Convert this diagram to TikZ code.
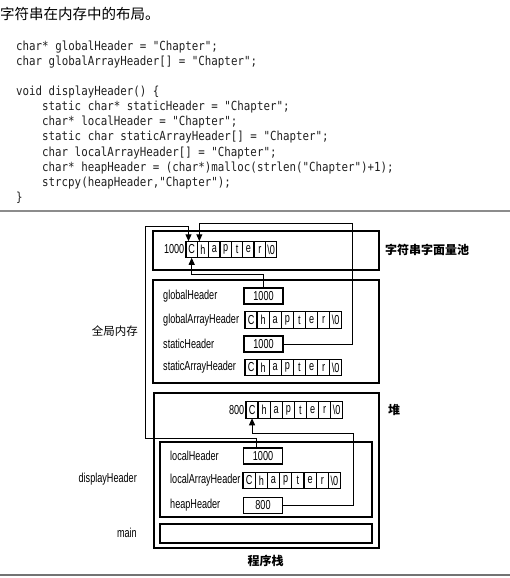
\documentclass[tikz,border=0pt]{standalone}
\usepackage{fontspec}
\setmainfont{Liberation Sans}
\newfontfamily\cjk{Noto Sans CJK SC}
\newfontfamily\codefont[FakeStretch=0.865]{DejaVu Sans Mono}
\newfontfamily\lblfont[FakeStretch=0.7]{Liberation Sans}
\usetikzlibrary{arrows.meta}
\newcommand\lblsize{\lblfont\fontsize{13pt}{15pt}\selectfont}
\newcommand\mkcells[4]{%
  \foreach \ch [count=\i] in {C,h,a,p,t,e,r,\textbackslash0} {
    \node[cell, minimum width=#4pt] (#1\i) at ({#2+(\i-1)*#4}, #3) {\ch};
  }%
}
\tikzset{
  cell/.style={draw, line width=1.3pt, minimum height=16.5pt, inner sep=0pt, outer sep=0pt, anchor=west, font=\lblsize},
  valbox/.style={draw, line width=1.3pt, minimum width=39pt, minimum height=16pt, inner sep=0pt, outer sep=0pt, font=\lblsize},
  region/.style={draw, line width=1.3pt},
  conn/.style={draw, line width=1pt},
  tip/.style={-{Triangle[length=7pt,width=6pt]}},
  codeline/.style={anchor=west, inner sep=0pt, font=\codefont\fontsize{12.5pt}{14pt}\selectfont, text=black!88},
  lbl/.style={anchor=west, inner sep=0pt, font=\lblsize},
  cjklbl/.style={inner sep=0pt, font=\cjk\bfseries\fontsize{12pt}{14pt}\selectfont},
}
\begin{document}
\begin{tikzpicture}[x=1pt,y=-1pt]
\useasboundingbox (0,0) rectangle (510,578);
% title and code
\node[anchor=west, inner sep=0pt, font=\cjk\fontsize{14.5pt}{16pt}\selectfont] (title) at (0,14) {字符串在内存中的布局。};
\node[codeline] (code1) at (16,47) {char* globalHeader = "Chapter";};
\node[codeline] (code2) at (16,62) {char globalArrayHeader[] = "Chapter";};
\node[codeline] (code3) at (16,92) {void displayHeader() \{};
\node[codeline] (code4) at (42,107) {static char* staticHeader = "Chapter";};
\node[codeline] (code5) at (42,122) {char* localHeader = "Chapter";};
\node[codeline] (code6) at (42,137) {static char staticArrayHeader[] = "Chapter";};
\node[codeline] (code7) at (42,153) {char localArrayHeader[] = "Chapter";};
\node[codeline] (code8) at (42,168) {char* heapHeader = (char*)malloc(strlen("Chapter")+1);};
\node[codeline] (code9) at (42,183) {strcpy(heapHeader,"Chapter");};
\node[codeline] (code10) at (16,198) {\}};
% separators
\draw[line width=1.2pt, black!45] (0,211) -- (510,211);
\draw[line width=1.5pt, black!55] (0,575) -- (510,575);
% regions
\draw[region] (153,231) rectangle (379,270);
\draw[region] (153,280) rectangle (379,383);
\draw[region] (154,393) rectangle (379,548);
\draw[region] (160,442) rectangle (372,517);
\draw[region] (160,524) rectangle (372,543);
% string pool
\node[anchor=east, inner sep=0pt, font=\lblsize] (poolAddr) at (184.5,249.5) {1000};
\mkcells{pool}{186}{249.5}{11.35}
% global memory
\node[lbl] (ghL) at (163,296) {globalHeader};
\node[valbox] (gh) at (263.5,296) {1000};
\node[lbl] (gahL) at (163,320) {globalArrayHeader};
\mkcells{gah}{245}{320}{12.1}
\node[lbl] (shL) at (163,344) {staticHeader};
\node[valbox] (sh) at (263.5,344) {1000};
\node[lbl] (sahL) at (163,367.5) {staticArrayHeader};
\mkcells{sah}{245}{367.5}{12.1}
% heap
\node[anchor=east, inner sep=0pt, font=\lblsize] (heapAddr) at (244.5,410) {800};
\mkcells{heap}{246}{410}{12.1}
% stack
\node[lbl] (lhL) at (170,456) {localHeader};
\node[valbox] (lh) at (263,456) {1000};
\node[lbl] (lahL) at (170,480.5) {localArrayHeader};
\mkcells{lah}{243}{480.5}{12.2}
\node[lbl] (hhL) at (170,505.5) {heapHeader};
\node[valbox] (hh) at (263,505.5) {800};
% side labels
\node[cjklbl, anchor=west] (poolLbl) at (385,250) {字符串字面量池};
\node[inner sep=0pt, anchor=east, font=\cjk\fontsize{11.5pt}{14pt}\selectfont] (globLbl) at (138,331) {全局内存};
\node[cjklbl, anchor=west] (heapLbl) at (388,410) {堆};
\node[inner sep=0pt, anchor=east, font=\lblsize] (dhLbl) at (137,479) {displayHeader};
\node[inner sep=0pt, anchor=east, font=\lblsize] (mainLbl) at (137,533) {main};
\node[cjklbl] (stackLbl) at (265.5,561) {程序栈};
% connectors
\coordinate (lhLeft) at (145,438);
\coordinate (lhTop) at (145,226);
\coordinate (shRight) at (352,223);
\coordinate (ghKnee) at (0,274);
\coordinate (hhRight) at (353,433);
\draw[conn, tip] ([xshift=-7pt]lh.north) |- (lhLeft) -- (lhTop) -| ([xshift=2.5pt]pool1.north west);
\draw[conn, tip] (sh.east) -| (shRight) -| ([xshift=2pt]pool1.north east);
\draw[conn, tip] (gh.north) -- (gh.north |- ghKnee) -| (pool1.south);
\draw[conn, tip] (hh.east) -| (hhRight) -| (heap1.south);
\end{tikzpicture}
\end{document}
